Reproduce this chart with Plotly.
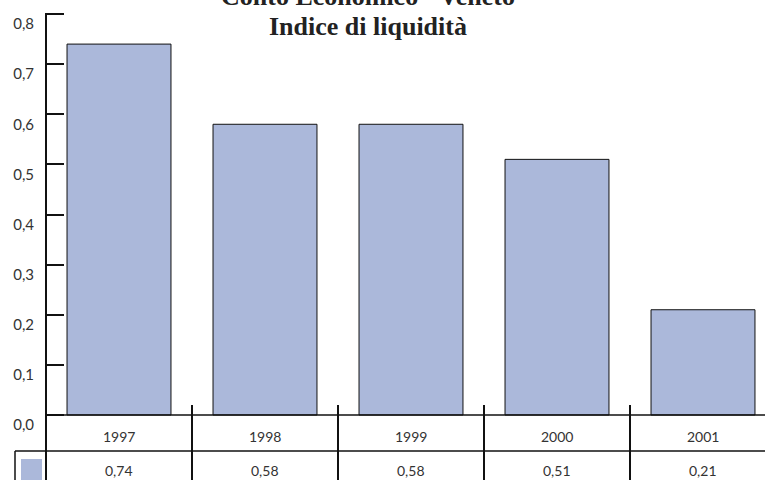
import plotly.graph_objects as go

# ---- data ----
years = ["1997", "1998", "1999", "2000", "2001"]
values = [0.74, 0.58, 0.58, 0.51, 0.21]
value_labels = ["0,74", "0,58", "0,58", "0,51", "0,21"]
y_ticks = [0.0, 0.1, 0.2, 0.3, 0.4, 0.5, 0.6, 0.7, 0.8]
y_tick_labels = ["0,0", "0,1", "0,2", "0,3", "0,4", "0,5", "0,6", "0,7", "0,8"]
title_line1 = "Conto Economico - Veneto"
title_line2 = "Indice di liquidità"

# ---- layout geometry (pixels) ----
W, H = 765, 480
ML = 46
PW = W - ML
TOP_PX, ZERO_PX = 14, 415          # pixel rows of 0.8 and 0.0
ppu = (ZERO_PX - TOP_PX) / 0.8     # pixels per unit
Y1 = 0.8 + TOP_PX / ppu
Y0 = -(H - ZERO_PX) / ppu

def ypx(p):   # pixel row -> data y
    return (ZERO_PX - p) / ppu

def xpx(p):   # pixel col -> paper x
    return (p - ML) / PW

BAR = "#abb8da"
TXT = "#333333"
LINE = "#111111"

fig = go.Figure()
fig.add_trace(go.Bar(
    x=years, y=values, width=0.712,
    marker=dict(color=BAR, line=dict(color=LINE, width=1)),
    hoverinfo="skip", showlegend=False,
))

shapes = []
# y axis line
shapes.append(dict(type="line", xref="paper", yref="y", x0=0, x1=0,
                   y0=0.8 + 1 / ppu, y1=Y0 - 0.05, line=dict(color=LINE, width=2)))
# baseline / table top
shapes.append(dict(type="line", xref="paper", yref="y", x0=0, x1=1.2,
                   y0=0, y1=0, line=dict(color=LINE, width=1.5)))
# row separator
shapes.append(dict(type="line", xref="paper", yref="y", x0=xpx(15), x1=1.2,
                   y0=ypx(451), y1=ypx(451), line=dict(color=LINE, width=1.5)))
# legend cell left border
shapes.append(dict(type="line", xref="paper", yref="y", x0=xpx(15), x1=xpx(15),
                   y0=ypx(451), y1=Y0 - 0.05, line=dict(color=LINE, width=1.5)))
# legend key
shapes.append(dict(type="rect", xref="paper", yref="y", x0=xpx(21), x1=xpx(42),
                   y0=ypx(459), y1=Y0 - 0.05, fillcolor=BAR, line=dict(width=0)))
# category separators
for i in range(len(years) - 1):
    shapes.append(dict(type="line", xref="x", yref="y", x0=i + 0.5, x1=i + 0.5,
                       y0=ypx(405), y1=Y0 - 0.05, line=dict(color=LINE, width=2)))

annotations = []
for i, (yr, lab) in enumerate(zip(years, value_labels)):
    annotations.append(dict(x=i, y=ypx(436), xref="x", yref="y", text=yr,
                            showarrow=False, font=dict(family="Lato", size=14, color=TXT)))
    annotations.append(dict(x=i, y=ypx(470), xref="x", yref="y", text=lab,
                            showarrow=False, font=dict(family="Lato", size=14, color=TXT)))
# title
annotations.append(dict(x=xpx(368), y=1 + 4 / H, xref="paper", yref="paper",
                        text="<b>" + title_line1 + "</b>", showarrow=False,
                        xanchor="center", yanchor="middle",
                        font=dict(family="Liberation Serif", size=26, color="#222222")))
annotations.append(dict(x=xpx(368), y=1 - 26 / H, xref="paper", yref="paper",
                        text="<b>" + title_line2 + "</b>", showarrow=False,
                        xanchor="center", yanchor="middle",
                        font=dict(family="Liberation Serif", size=26, color="#222222")))

fig.update_layout(
    width=W, height=H,
    margin=dict(l=ML, r=0, t=0, b=0, pad=0, autoexpand=False),
    paper_bgcolor="white", plot_bgcolor="white",
    shapes=shapes, annotations=annotations,
    xaxis=dict(range=[-0.5, -0.5 + PW / 146.0], showticklabels=False, ticks="",
               showgrid=False, zeroline=False, showline=False, fixedrange=True,
               automargin=False),
    yaxis=dict(range=[Y0, Y1], tickvals=y_ticks, ticktext=y_tick_labels,
               ticks="inside", ticklen=18, tickwidth=2, tickcolor=LINE,
               ticklabelshift=10, ticklabelstandoff=11, ticklabeloverflow="allow",
               tickfont=dict(family="Lato", size=15, color=TXT),
               showgrid=False, zeroline=False, showline=False, fixedrange=True,
               automargin=False),
    bargap=0.3,
)

fig.write_html(
    "out.html",
    config={"displayModeBar": False, "staticPlot": True},
    post_script="document.body.style.margin='0';document.body.style.overflow='hidden';"
                "document.documentElement.style.overflow='hidden';",
)
